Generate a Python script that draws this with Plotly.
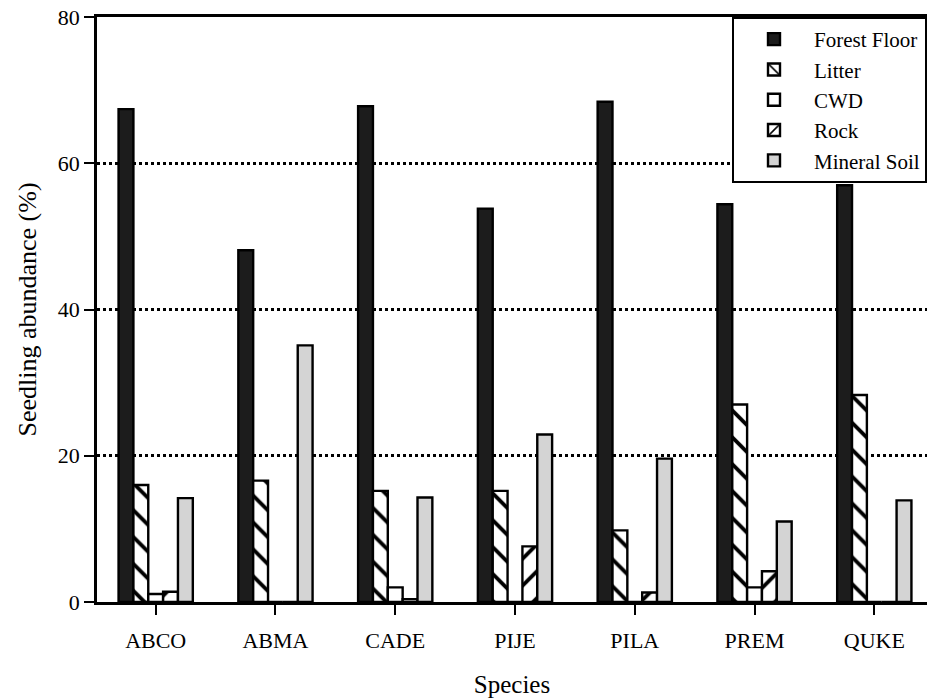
import plotly.graph_objects as go

species = ["ABCO", "ABMA", "CADE", "PIJE", "PILA", "PREM", "QUKE"]

forest_floor = [67.4, 48.1, 67.8, 53.8, 68.4, 54.4, 57.0]
litter = [16.0, 16.6, 15.2, 15.2, 9.8, 27.0, 28.3]
cwd = [1.1, 0.0, 2.0, 0.0, 0.0, 2.0, 0.0]
rock = [1.4, 0.0, 0.4, 7.6, 1.3, 4.2, 0.0]
mineral_soil = [14.2, 35.1, 14.3, 22.9, 19.6, 11.0, 13.9]

y_ticks = [0, 20, 40, 60, 80]

FONT = "Liberation Serif, Times New Roman, serif"
EDGE = dict(color="black", width=2.4)


def hatch(shape):
    return dict(shape=shape, fgcolor="#000000", bgcolor="white", fgopacity=1,
                size=19, solidity=0.2, fillmode="replace")


series = [
    ("Forest Floor", forest_floor, dict(color="#1c1c1c", line=EDGE)),
    ("Litter", litter, dict(color="white", line=EDGE, pattern=hatch("\\"))),
    ("CWD", cwd, dict(color="white", line=EDGE)),
    ("Rock", rock, dict(color="white", line=EDGE, pattern=hatch("/"))),
    ("Mineral Soil", mineral_soil, dict(color="#d4d4d4", line=EDGE)),
]

fig = go.Figure()
for name, vals, marker in series:
    fig.add_trace(go.Bar(
        name=name, x=species, y=vals, marker=marker,
        legendgroup=name,
    ))

fig.update_layout(
    width=927, height=698,
    margin=dict(l=97, r=0, t=17, b=96),
    paper_bgcolor="white", plot_bgcolor="white",
    barmode="group", bargap=0.38, bargroupgap=0,
    font=dict(family=FONT, size=22, color="black"),
    legend=dict(
        x=1, xanchor="right", y=1, yanchor="top",
        bgcolor="white", bordercolor="black", borderwidth=2,
        font=dict(family=FONT, size=21, color="black"),
        tracegroupgap=0, itemwidth=70,
    ),
    showlegend=True,
)

fig.update_xaxes(
    range=[-0.49, 6.44],
    showline=True, linecolor="black", linewidth=2.5, mirror=True,
    ticks="outside", ticklen=10, tickwidth=2, tickcolor="black",
    ticklabelstandoff=7,
    showgrid=False,
    title=dict(text="Species", font=dict(family=FONT, size=25), standoff=24),
    tickfont=dict(family=FONT, size=22),
)

fig.update_yaxes(
    range=[0, 80], tickvals=y_ticks,
    showline=True, linecolor="black", linewidth=2.5, mirror=False,
    ticks="outside", ticklen=10, tickwidth=2, tickcolor="black",
    ticklabelstandoff=0,
    showgrid=True, gridcolor="black", gridwidth=2.5, griddash="dot",
    zeroline=False,
    title=dict(text="Seedling abundance (%)", font=dict(family=FONT, size=26), standoff=14),
    tickfont=dict(family=FONT, size=22),
)

fig.write_html("out.html")
